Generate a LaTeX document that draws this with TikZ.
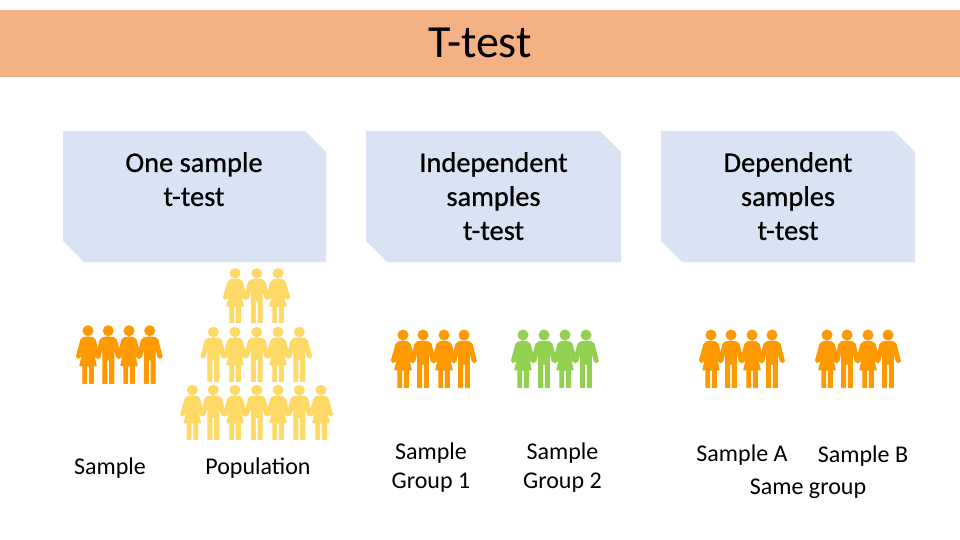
\documentclass[tikz,border=0pt]{standalone}
\usepackage{fontspec}
\setmainfont{Carlito}
\newfontfamily\heavyfont[FakeBold=0.7]{Carlito}
\definecolor{banner}{HTML}{F4B183}
\definecolor{boxblue}{HTML}{DAE3F3}
\definecolor{orangep}{HTML}{FF9900}
\definecolor{yellowp}{HTML}{FFD966}
\definecolor{greenp}{HTML}{92D050}
\tikzset{
  x=1pt,y=-1pt,
  snipbox/.style={fill=boxblue,draw=none},
  boxtext/.style={font=\heavyfont\fontsize{28.4}{34}\selectfont,align=center,text=black,inner sep=0pt,anchor=north},
  lbl/.style={font=\fontsize{24}{29}\selectfont,align=center,text=black,inner sep=0pt},
  woman/.pic={\fill (0,0) circle (5.5);
    \filldraw[line width=1.1pt,line join=round] (0,6.2)--(4.5,7)--(7,9)--(11.5,25.5)--(10,27.6)--(7.6,26)--(4.8,14.5)--(4.4,19)--(8.2,34.8)--(5.2,34.8)--(5.2,52.5)--(1.5,52.5)--(1.5,35)--(-1.5,35)--(-1.5,52.5)--(-5.2,52.5)--(-5.2,34.8)--(-8.2,34.8)--(-4.4,19)--(-4.8,14.5)--(-7.6,26)--(-10,27.6)--(-11.5,25.5)--(-7,9)--(-4.5,7)--cycle;},
  man/.pic={\fill (0,0) circle (5.5);
    \filldraw[line width=1.1pt,line join=round] (0,6.2)--(5.5,7)--(8,9)--(12.3,26)--(10.5,27.6)--(8.2,26)--(5.4,14.5)--(5.4,52.5)--(1.4,52.5)--(1.4,29)--(-1.4,29)--(-1.4,52.5)--(-5.4,52.5)--(-5.4,14.5)--(-8.2,26)--(-10.5,27.6)--(-12.3,26)--(-8,9)--(-5.5,7)--cycle;}
}
\begin{document}
\begin{tikzpicture}
\useasboundingbox (0,0) rectangle (960,540);
\fill[white] (0,0) rectangle (960,540);
\fill[banner] (0,10) rectangle (960,77);
\node[inner sep=0pt,font=\fontsize{46}{50}\selectfont] (title) at (480,43) {T-test};
\fill[snipbox] (63,131)--(305,131)--(326,152)--(326,262)--(84,262)--(63,241)--cycle;
\fill[snipbox] (366,131)--(600,131)--(621,152)--(621,262)--(387,262)--(366,241)--cycle;
\fill[snipbox] (661,131)--(894,131)--(915,152)--(915,262)--(682,262)--(661,241)--cycle;
\node[boxtext] (b1) at (194,152) {One sample\\t-test};
\node[boxtext] (b2) at (493.5,152) {Independent\\samples\\t-test};
\node[boxtext] (b3) at (788,152) {Dependent\\samples\\t-test};
\begin{scope}[orangep]
\foreach \a/\k in {88/woman,108.3/man,129/woman,149.7/man}{\pic at (\a,330.7) {\k};}
\foreach \a/\k in {403/woman,423/man,444/woman,464/man}{\pic at (\a,335) {\k};}
\foreach \a/\k in {711/woman,731/man,752/woman,772/man}{\pic at (\a,335) {\k};}
\foreach \a/\k in {827/woman,847/man,868/woman,888/man}{\pic at (\a,335) {\k};}
\end{scope}
\begin{scope}[greenp]
\foreach \a/\k in {523/woman,544/man,565/woman,586/man}{\pic at (\a,335) {\k};}
\end{scope}
\begin{scope}[yellowp]
\foreach \a/\k in {235/woman,256.7/man,278/woman}{\pic[yscale=0.94] at (\a,273.3) {\k};}
\foreach \a/\k in {213.3/man,235/woman,256.7/man,278/woman,299.3/man}{\pic[yscale=0.94] at (\a,332) {\k};}
\foreach \a/\k in {192.3/woman,213.3/man,235/woman,256.7/man,278/woman,299.3/man,321/woman}{\pic[yscale=0.94] at (\a,390) {\k};}
\end{scope}
\node[lbl] (l1) at (110,468.5) {Sample};
\node[lbl] (l2) at (258,468.5) {Population};
\node[lbl] (l3) at (431,468) {Sample\\Group 1};
\node[lbl] (l4) at (562.5,468) {Sample\\Group 2};
\node[lbl] (l5) at (742,455) {Sample A};
\node[lbl] (l6) at (863,456) {Sample B};
\node[lbl] (l7) at (808,489) {Same group};
\end{tikzpicture}
\end{document}
